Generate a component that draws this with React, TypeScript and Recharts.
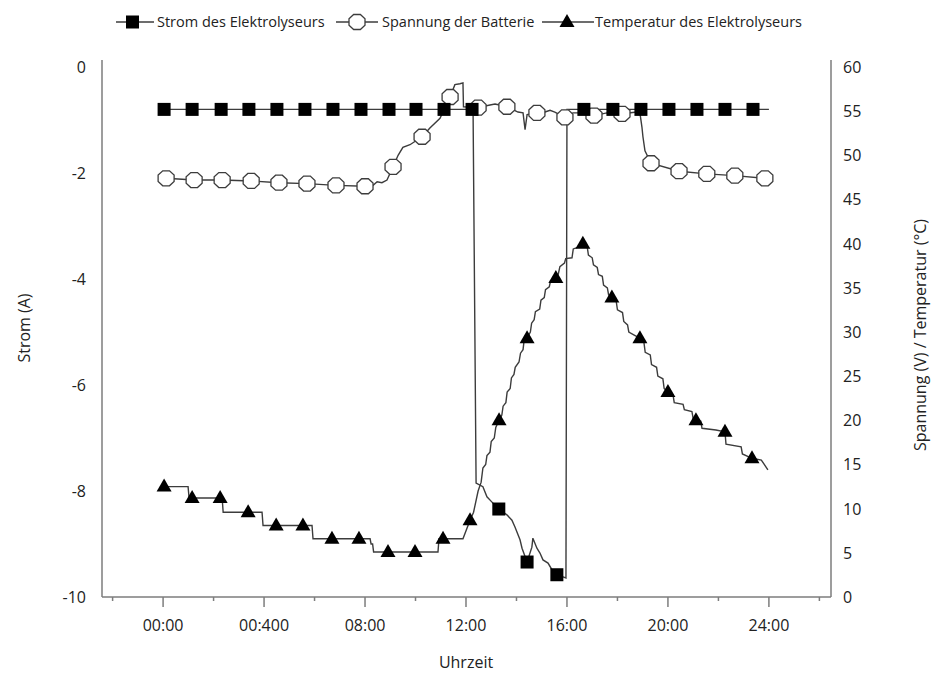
import React from 'react';
import { LineChart, Line, XAxis, YAxis } from 'recharts';

// [hour, value, marker?]
type Pt = [number, number, number?];

const hourTicks = [-2, 0, 2, 4, 6, 8, 10, 12, 14, 16, 18, 20, 22, 24, 26];
const hourLabels: Record<number, string> = {
  0: '00:00', 4: '00:400', 8: '08:00', 12: '12:00', 16: '16:00', 20: '20:00', 24: '24:00',
};
const stromTicks = [0, -2, -4, -6, -8, -10];
const voltTicks = [0, 5, 10, 15, 20, 25, 30, 35, 40, 45, 50, 55, 60];
const leftMinor = [0, 1, 2, 3, 4, 5, 6, 7, 8, 9, 10, 11, 12];
const rightMinor = [0, 1, 2, 3, 4, 5, 6, 7, 8, 9, 10, 11, 12, 13, 14, 15, 16];

const stromPts: Pt[] = [
  [0.04, -0.8, 1], [1.15, -0.8, 1], [2.3, -0.8, 1], [3.4, -0.8, 1], [4.51, -0.8, 1], [5.62, -0.8, 1],
  [6.73, -0.8, 1], [7.84, -0.8, 1], [8.95, -0.8, 1], [10.02, -0.8, 1], [11.13, -0.8, 1], [12.24, -0.8, 1],
  [12.28, -0.8], [12.4, -7.85], [12.67, -7.92], [12.83, -8.11], [13.03, -8.21], [13.3, -8.34, 1],
  [13.62, -8.45], [13.82, -8.55], [13.94, -8.68], [14.14, -8.92], [14.22, -9.08], [14.42, -9.34, 1],
  [14.61, -9.06], [14.65, -8.89], [14.81, -9.08], [14.93, -9.17], [15.05, -9.3], [15.25, -9.36],
  [15.41, -9.49], [15.6, -9.58, 1], [15.84, -9.62], [15.96, -9.64], [16.0, -0.8],
  [16.67, -0.8, 1], [17.82, -0.8, 1], [18.93, -0.8, 1], [20.04, -0.8, 1], [21.15, -0.8, 1],
  [22.26, -0.8, 1], [23.37, -0.8, 1], [24.0, -0.8],
];

const spannungPts: Pt[] = [
  [0.12, 47.4, 1], [1.23, 47.2, 1], [2.34, 47.2, 1], [3.49, 47.1, 1], [4.59, 46.9, 1], [5.7, 46.8, 1],
  [6.85, 46.6, 1], [8.0, 46.5, 1], [8.32, 46.6], [8.48, 47.0], [8.67, 46.9], [8.87, 47.2],
  [9.11, 48.7, 1], [9.31, 50.0], [9.5, 50.9], [9.78, 51.2], [10.26, 52.1, 1], [10.57, 53.1],
  [10.97, 54.2], [11.37, 56.6, 1], [11.56, 58.0], [11.76, 58.1], [11.88, 58.2], [11.9, 55.5],
  [12.48, 55.4, 1], [12.95, 55.7], [13.15, 55.8], [13.62, 55.5, 1], [14.06, 54.9], [14.26, 54.8],
  [14.34, 52.9], [14.42, 54.6], [14.81, 54.8, 1], [15.13, 54.9], [15.33, 55.1], [15.52, 54.9],
  [15.92, 54.3, 1], [16.24, 54.8], [16.51, 54.8], [17.07, 54.5, 1], [17.58, 54.8], [18.18, 54.7, 1],
  [18.77, 54.9], [18.89, 54.8], [18.97, 53.2], [19.01, 52.1], [19.09, 50.5], [19.33, 49.1, 1],
  [20.44, 48.2, 1], [21.54, 47.9, 1], [22.65, 47.7, 1], [23.84, 47.4, 1],
];

const tempPts: Pt[] = [
  [0.04, 12.5, 1], [0.99, 12.5], [1.03, 11.2], [1.15, 11.2, 1], [2.26, 11.2, 1], [2.34, 11.2],
  [2.38, 9.6], [3.37, 9.6, 1], [3.92, 9.6], [3.96, 8.1], [4.48, 8.1, 1], [5.54, 8.1, 1], [5.9, 8.1],
  [5.94, 6.6], [6.69, 6.6, 1], [7.76, 6.6, 1], [8.2, 6.6], [8.24, 6.0], [8.3, 6.0], [8.34, 5.1],
  [8.91, 5.1, 1], [9.98, 5.1, 1], [10.89, 5.1], [10.93, 6.6], [11.09, 6.6, 1], [11.88, 6.6],
  [12.16, 8.7, 1], [12.3, 9.6], [12.36, 10.4], [12.48, 12.0], [12.6, 13.0], [12.67, 14.6],
  [12.78, 15.0], [12.83, 16.0], [12.95, 16.4], [13.0, 17.6], [13.12, 18.0], [13.18, 19.2],
  [13.31, 20.0, 1], [13.42, 20.6], [13.47, 21.6], [13.58, 22.0], [13.63, 23.2], [13.75, 23.6],
  [13.8, 24.8], [13.9, 25.2], [13.95, 26.0], [14.1, 26.6], [14.16, 27.6], [14.26, 28.0],
  [14.3, 29.0], [14.42, 29.3, 1], [14.55, 30.0], [14.6, 31.0], [14.7, 31.4], [14.75, 32.3],
  [14.92, 32.6], [14.97, 33.6], [15.1, 33.9], [15.15, 34.8], [15.3, 35.1], [15.35, 35.8],
  [15.56, 36.1, 1], [15.66, 36.6], [15.72, 37.4], [15.9, 37.8], [15.95, 38.3], [16.2, 38.4],
  [16.25, 39.4], [16.45, 39.6], [16.63, 40.0, 1], [16.8, 39.7], [16.85, 38.7], [17.0, 38.4],
  [17.05, 37.6], [17.2, 37.3], [17.25, 36.5], [17.4, 36.3], [17.45, 35.3], [17.6, 35.0],
  [17.65, 34.2], [17.78, 33.9, 1], [17.95, 33.5], [18.0, 32.5], [18.2, 32.2], [18.25, 31.2],
  [18.4, 30.8], [18.45, 30.0], [18.7, 29.6], [18.89, 29.3, 1], [19.05, 28.8], [19.1, 27.7],
  [19.3, 27.4], [19.35, 26.3], [19.55, 26.0], [19.6, 25.0], [19.8, 24.7], [19.85, 23.6],
  [20.0, 23.2, 1], [20.2, 22.9], [20.25, 22.0], [20.6, 21.8], [20.65, 21.2], [20.95, 21.0],
  [21.0, 20.2], [21.11, 20.0, 1], [21.3, 19.9], [21.35, 19.1], [21.9, 18.9], [22.26, 18.7, 1],
  [22.3, 17.3], [22.9, 17.0], [22.95, 16.2], [23.33, 15.7, 1], [23.7, 15.5], [23.96, 14.4],
];

const rows = (pts: Pt[]) => pts.map(([t, v, m]) => ({ t, v, m: !!m }));
const strom = rows(stromPts);
const spannung = rows(spannungPts);
const temp = rows(tempPts);

const W = 939;
const H = 679;
const PLOT = { l: 102, r: 831, t: 60, b: 597 };
const AXIS = '#7d7d7d';
const LINE = '#3c3c3c';
const FONT = '"Open Sans", "Noto Sans", sans-serif';

const SquareDot = (p: any) => {
  if (!p.payload?.m) return <g key={p.index} />;
  return <rect key={p.index} x={p.cx - 6.5} y={p.cy - 6.5} width={13} height={13} fill="#000" />;
};

const octagon = (cx: number, cy: number, rx: number, ry: number) => {
  const a = rx * 0.42, b = ry * 0.42;
  return [
    [cx - a, cy - ry], [cx + a, cy - ry], [cx + rx, cy - b], [cx + rx, cy + b],
    [cx + a, cy + ry], [cx - a, cy + ry], [cx - rx, cy + b], [cx - rx, cy - b],
  ].map((q) => q.join(',')).join(' ');
};

const CircleDot = (p: any) => {
  if (!p.payload?.m) return <g key={p.index} />;
  return <polygon key={p.index} points={octagon(p.cx, p.cy, 8, 7.5)} fill="#fff" stroke={LINE} strokeWidth={1.3} />;
};

const TriDot = (p: any) => {
  if (!p.payload?.m) return <g key={p.index} />;
  const { cx, cy } = p;
  return <polygon key={p.index} points={`${cx},${cy - 8} ${cx + 7.5},${cy + 5} ${cx - 7.5},${cy + 5}`} fill="#000" />;
};

const BottomTick = (p: any) => {
  const v = p.payload.value;
  const major = v % 4 === 0;
  return (
    <g>
      <line x1={p.x} x2={p.x} y1={PLOT.b} y2={PLOT.b + (major ? 10 : 4)} stroke={AXIS} strokeWidth={1.5} />
      {major && (
        <text x={p.x} y={PLOT.b + 34} textAnchor="middle" fontSize={16} fontFamily={FONT} fill="#222">
          {hourLabels[v]}
        </text>
      )}
    </g>
  );
};

const TopTick = (p: any) => {
  const major = p.payload.value % 4 === 0;
  return <line x1={p.x} x2={p.x} y1={PLOT.t} y2={PLOT.t + (major ? 9 : 5)} stroke={AXIS} strokeWidth={1.5} />;
};

const LeftMinorTick = (p: any) => (
  <line x1={PLOT.l - 2} x2={PLOT.l + 10} y1={p.y} y2={p.y} stroke={AXIS} strokeWidth={1.5} />
);

const RightMinorTick = (p: any) => (
  <line x1={PLOT.r - 10} x2={PLOT.r} y1={p.y} y2={p.y} stroke={AXIS} strokeWidth={1.5} />
);

const LeftLabel = (p: any) => (
  <text x={PLOT.l - 16} y={p.y + 6} textAnchor="end" fontSize={16} fontFamily={FONT} fill="#222">
    {p.payload.value}
  </text>
);

const RightLabel = (p: any) => (
  <text x={PLOT.r + 12} y={p.y + 6} textAnchor="start" fontSize={16} fontFamily={FONT} fill="#222">
    {p.payload.value}
  </text>
);

const Legend = () => (
  <svg width={W} height={44} style={{ position: 'absolute', left: 0, top: 0 }}>
    <g stroke={LINE} strokeWidth={1.4}>
      <line x1={116} x2={154} y1={22} y2={22} />
      <line x1={336} x2={378} y1={22} y2={22} />
      <line x1={542} x2={594} y1={22} y2={22} />
    </g>
    <rect x={126} y={15.5} width={13} height={13} fill="#000" />
    <polygon points={octagon(357, 22, 8, 7.5)} fill="#fff" stroke={LINE} strokeWidth={1.3} />
    <polygon points="567,14 574.5,27 559.5,27" fill="#000" />
    <g fontSize={14.5} fontFamily={FONT} fill="#222">
      <text x={157} y={27}>Strom des Elektrolyseurs</text>
      <text x={382} y={27}>Spannung der Batterie</text>
      <text x={595} y={27}>Temperatur des Elektrolyseurs</text>
    </g>
  </svg>
);

export default function App() {
  const dom: [number, number] = [-2.42, 26.46];
  return (
    <div style={{ position: 'absolute', left: 0, top: 0, width: W, height: H, background: '#fff' }}>
      <LineChart width={W} height={H} margin={{ top: PLOT.t, right: 0, bottom: 0, left: 0 }}>
        <XAxis
          xAxisId="x" type="number" dataKey="t" domain={dom} allowDataOverflow ticks={hourTicks}
          height={H - PLOT.b} tickSize={0} tickMargin={0} tickLine={false}
          axisLine={{ stroke: AXIS, strokeWidth: 1.5 }} tick={<BottomTick />} interval={0}
        />
        <XAxis
          xAxisId="top" orientation="top" type="number" dataKey="t" domain={dom} allowDataOverflow ticks={hourTicks}
          height={0} tickSize={0} tickLine={false} axisLine={{ stroke: AXIS, strokeWidth: 1.5 }}
          tick={<TopTick />} interval={0}
        />
        <YAxis
          yAxisId="lt" type="number" domain={[0, 12]} ticks={leftMinor} width={0} axisLine={false}
          tickLine={false} tick={<LeftMinorTick />} interval={0} allowDataOverflow
        />
        <YAxis
          yAxisId="a" type="number" domain={[-10, 0.132]} ticks={stromTicks} width={PLOT.l} allowDataOverflow
          tickLine={false} axisLine={{ stroke: AXIS, strokeWidth: 1.5 }} tick={<LeftLabel />} interval={0}
        />
        <YAxis
          yAxisId="rt" orientation="right" type="number" domain={[0, 16]} ticks={rightMinor} width={0}
          axisLine={false} tickLine={false} tick={<RightMinorTick />} interval={0} allowDataOverflow
        />
        <YAxis
          yAxisId="b" orientation="right" type="number" domain={[0, 60.79]} ticks={voltTicks} width={W - PLOT.r}
          allowDataOverflow tickLine={false} axisLine={{ stroke: AXIS, strokeWidth: 1.5 }} tick={<RightLabel />}
          interval={0}
        />
        <Line
          data={spannung} xAxisId="x" yAxisId="b" dataKey="v" type="linear" stroke={LINE} strokeWidth={1.4}
          dot={CircleDot} activeDot={false} isAnimationActive={false}
        />
        <Line
          data={strom} xAxisId="x" yAxisId="a" dataKey="v" type="linear" stroke={LINE} strokeWidth={1.4}
          dot={SquareDot} activeDot={false} isAnimationActive={false}
        />
        <Line
          data={temp} xAxisId="x" yAxisId="b" dataKey="v" type="linear" stroke={LINE} strokeWidth={1.4}
          dot={TriDot} activeDot={false} isAnimationActive={false}
        />
      </LineChart>
      <Legend />
      <svg width={W} height={H} style={{ position: 'absolute', left: 0, top: 0, pointerEvents: 'none' }}>
        <g fontSize={16} fontFamily={FONT} fill="#222" textAnchor="middle">
          <text transform="translate(30,328) rotate(-90)">Strom (A)</text>
          <text transform="translate(926,335) rotate(-90)">Spannung (V) / Temperatur (°C)</text>
          <text x={466} y={668}>Uhrzeit</text>
        </g>
      </svg>
    </div>
  );
}
